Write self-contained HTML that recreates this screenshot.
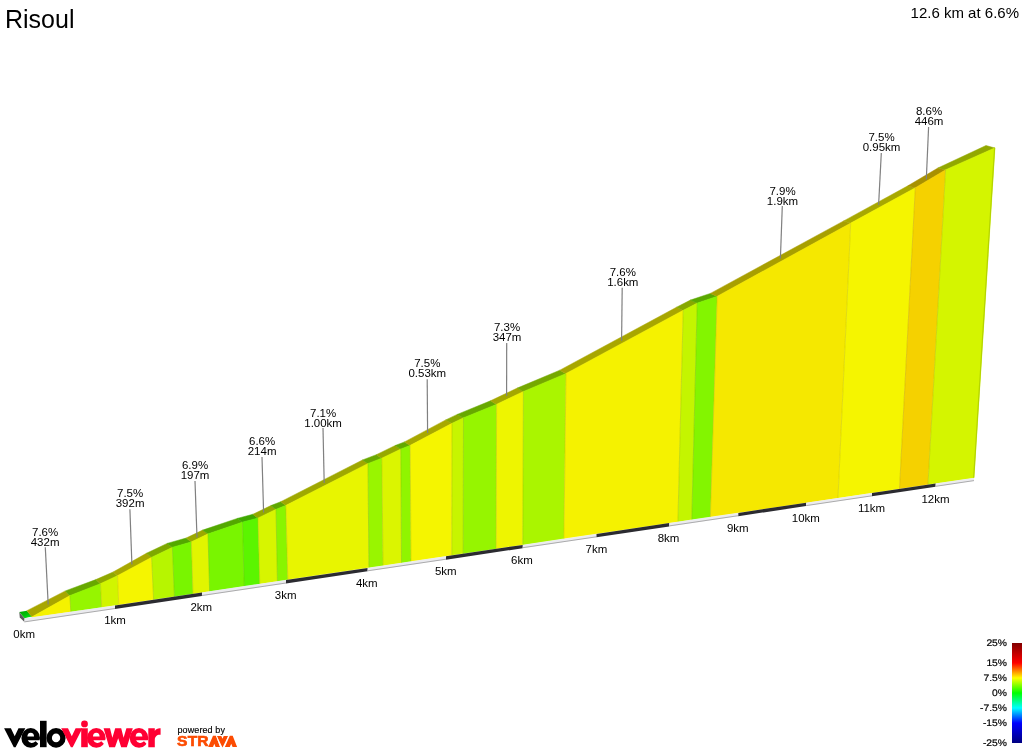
<!DOCTYPE html>
<html><head><meta charset="utf-8"><title>Risoul</title>
<style>
html,body{margin:0;padding:0;background:#fff;}
body{width:1024px;height:750px;overflow:hidden;position:relative;font-family:"Liberation Sans",sans-serif;}
svg{position:absolute;left:0;top:0;will-change:transform;}
text{font-family:"Liberation Sans",sans-serif;fill:#000;}
.l{font-size:10px;text-anchor:middle;}
.g{font-size:10px;text-anchor:end;text-rendering:geometricPrecision;stroke:#000;stroke-width:0.2px;}
</style></head><body>
<svg width="1024" height="750" viewBox="0 0 1024 750">
<defs>
<linearGradient id="lg" x1="0" y1="0" x2="0" y2="1">
<stop offset="0" stop-color="#800000"/>
<stop offset="0.2" stop-color="#ff0000"/>
<stop offset="0.35" stop-color="#ffff00"/>
<stop offset="0.5" stop-color="#00ff00"/>
<stop offset="0.65" stop-color="#00ffff"/>
<stop offset="0.8" stop-color="#0000ff"/>
<stop offset="1" stop-color="#000080"/>
</linearGradient>
<linearGradient id="sg" x1="0" y1="0" x2="0.6" y2="1"><stop offset="0" stop-color="#00a800"/><stop offset="0.55" stop-color="#00bc08"/><stop offset="1" stop-color="#00e414"/></linearGradient>
</defs>
<text x="5" y="28" style="font-size:25px">Risoul</text>
<text x="1019" y="18" style="font-size:15px;text-anchor:end">12.6 km at 6.6%</text>
<!-- start cap -->
<polygon fill="url(#sg)" points="19.2,612.1 26.9,610.8 32,616.6 24.5,618.3"/>
<polygon fill="#5c5c5c" points="19.3,612.3 24.7,618.4 24.5,622.0 19.8,617.6"/>
<!-- faces -->
<polygon fill="#a8a600" stroke="#a8a600" stroke-width="0.5" points="32.00,617.10 69.90,595.80 65.30,590.90 26.90,610.70"/>
<polygon fill="#67a800" stroke="#67a800" stroke-width="0.5" points="69.90,595.80 100.50,583.90 95.81,579.61 65.30,590.90"/>
<polygon fill="#90a800" stroke="#90a800" stroke-width="0.5" points="100.50,583.90 117.60,575.90 113.10,571.99 95.81,579.61"/>
<polygon fill="#a8a800" stroke="#a8a800" stroke-width="0.5" points="117.60,575.90 151.60,557.50 146.40,553.31 113.10,571.99"/>
<polygon fill="#7ea800" stroke="#7ea800" stroke-width="0.5" points="151.60,557.50 172.40,547.50 167.16,543.38 146.40,553.31"/>
<polygon fill="#53a800" stroke="#53a800" stroke-width="0.5" points="172.40,547.50 191.40,542.10 186.13,538.04 167.16,543.38"/>
<polygon fill="#9ba800" stroke="#9ba800" stroke-width="0.5" points="191.40,542.10 208.00,534.10 202.70,530.10 186.13,538.04"/>
<polygon fill="#53a800" stroke="#53a800" stroke-width="0.5" points="208.00,534.10 242.50,522.30 237.30,518.40 202.70,530.10"/>
<polygon fill="#3fa800" stroke="#3fa800" stroke-width="0.5" points="242.50,522.30 258.00,518.20 252.84,514.30 237.30,518.40"/>
<polygon fill="#94a800" stroke="#94a800" stroke-width="0.5" points="258.00,518.20 276.00,509.50 270.89,505.60 252.84,514.30"/>
<polygon fill="#5ea800" stroke="#5ea800" stroke-width="0.5" points="276.00,509.50 285.90,505.60 280.78,501.71 270.89,505.60"/>
<polygon fill="#9fa800" stroke="#9fa800" stroke-width="0.5" points="285.90,505.60 368.00,463.70 362.53,459.95 280.78,501.71"/>
<polygon fill="#69a800" stroke="#69a800" stroke-width="0.5" points="368.00,463.70 381.90,458.40 376.38,454.67 362.53,459.95"/>
<polygon fill="#96a800" stroke="#96a800" stroke-width="0.5" points="381.90,458.40 400.80,449.20 395.19,445.50 376.38,454.67"/>
<polygon fill="#63a800" stroke="#63a800" stroke-width="0.5" points="400.80,449.20 410.20,445.60 404.47,441.92 395.19,445.50"/>
<polygon fill="#a8a800" stroke="#a8a800" stroke-width="0.5" points="410.20,445.60 452.00,423.50 445.74,419.89 404.47,441.92"/>
<polygon fill="#89a800" stroke="#89a800" stroke-width="0.5" points="452.00,423.50 463.50,418.00 457.24,414.38 445.74,419.89"/>
<polygon fill="#67a800" stroke="#67a800" stroke-width="0.5" points="463.50,418.00 496.60,404.50 490.48,400.81 457.24,414.38"/>
<polygon fill="#a4a800" stroke="#a4a800" stroke-width="0.5" points="496.60,404.50 523.40,391.70 517.26,388.07 490.48,400.81"/>
<polygon fill="#75a800" stroke="#75a800" stroke-width="0.5" points="523.40,391.70 566.00,373.70 559.80,370.20 517.26,388.07"/>
<polygon fill="#a8a600" stroke="#a8a600" stroke-width="0.5" points="566.00,373.70 683.20,310.50 676.48,307.26 559.80,370.20"/>
<polygon fill="#87a800" stroke="#87a800" stroke-width="0.5" points="683.20,310.50 697.20,303.30 690.41,300.09 676.48,307.26"/>
<polygon fill="#5aa800" stroke="#5aa800" stroke-width="0.5" points="697.20,303.30 717.20,296.50 710.38,293.39 690.41,300.09"/>
<polygon fill="#a89f00" stroke="#a89f00" stroke-width="0.5" points="717.20,296.50 850.70,223.30 843.70,220.90 710.38,293.39"/>
<polygon fill="#a8a800" stroke="#a8a800" stroke-width="0.5" points="850.70,223.30 915.30,188.00 907.90,185.80 843.70,220.90"/>
<polygon fill="#a89000" stroke="#a89000" stroke-width="0.5" points="915.30,188.00 945.60,170.00 937.88,167.99 907.90,185.80"/>
<polygon fill="#92a800" stroke="#92a800" stroke-width="0.5" points="945.60,170.00 995.00,148.00 986.00,145.50 937.88,167.99"/>
<polygon fill="#f5f200" stroke="#f5f200" stroke-width="0.4" points="32.00,616.80 69.90,595.50 70.80,611.85 32.00,617.61"/>
<polygon fill="#96f500" stroke="#96f500" stroke-width="0.4" points="69.90,595.50 100.50,583.60 101.70,607.26 70.80,611.85"/>
<polygon fill="#d1f500" stroke="#d1f500" stroke-width="0.4" points="100.50,583.60 117.60,575.60 118.70,604.74 101.70,607.26"/>
<polygon fill="#f5f500" stroke="#f5f500" stroke-width="0.4" points="117.60,575.60 151.60,557.20 153.60,599.55 118.70,604.74"/>
<polygon fill="#b7f500" stroke="#b7f500" stroke-width="0.4" points="151.60,557.20 172.40,547.20 174.40,596.46 153.60,599.55"/>
<polygon fill="#79f500" stroke="#79f500" stroke-width="0.4" points="172.40,547.20 191.40,541.80 193.00,593.70 174.40,596.46"/>
<polygon fill="#e1f500" stroke="#e1f500" stroke-width="0.4" points="191.40,541.80 208.00,533.80 209.60,591.23 193.00,593.70"/>
<polygon fill="#79f500" stroke="#79f500" stroke-width="0.4" points="208.00,533.80 242.50,522.00 244.20,586.09 209.60,591.23"/>
<polygon fill="#5bf500" stroke="#5bf500" stroke-width="0.4" points="242.50,522.00 258.00,517.90 259.80,583.78 244.20,586.09"/>
<polygon fill="#d7f500" stroke="#d7f500" stroke-width="0.4" points="258.00,517.90 276.00,509.20 277.40,581.16 259.80,583.78"/>
<polygon fill="#89f500" stroke="#89f500" stroke-width="0.4" points="276.00,509.20 285.90,505.30 287.80,579.62 277.40,581.16"/>
<polygon fill="#e8f500" stroke="#e8f500" stroke-width="0.4" points="285.90,505.30 368.00,463.40 368.90,567.57 287.80,579.62"/>
<polygon fill="#99f500" stroke="#99f500" stroke-width="0.4" points="368.00,463.40 381.90,458.10 383.00,565.47 368.90,567.57"/>
<polygon fill="#dbf500" stroke="#dbf500" stroke-width="0.4" points="381.90,458.10 400.80,448.90 401.50,562.73 383.00,565.47"/>
<polygon fill="#90f500" stroke="#90f500" stroke-width="0.4" points="400.80,448.90 410.20,445.30 411.00,561.31 401.50,562.73"/>
<polygon fill="#f5f500" stroke="#f5f500" stroke-width="0.4" points="410.20,445.30 452.00,423.20 451.80,555.25 411.00,561.31"/>
<polygon fill="#c7f500" stroke="#c7f500" stroke-width="0.4" points="452.00,423.20 463.50,417.70 463.20,553.56 451.80,555.25"/>
<polygon fill="#96f500" stroke="#96f500" stroke-width="0.4" points="463.50,417.70 496.60,404.20 496.20,548.66 463.20,553.56"/>
<polygon fill="#eef500" stroke="#eef500" stroke-width="0.4" points="496.60,404.20 523.40,391.40 522.80,544.71 496.20,548.66"/>
<polygon fill="#aaf500" stroke="#aaf500" stroke-width="0.4" points="523.40,391.40 566.00,373.40 563.90,538.60 522.80,544.71"/>
<polygon fill="#f5f200" stroke="#f5f200" stroke-width="0.4" points="566.00,373.40 683.20,310.20 677.90,521.67 563.90,538.60"/>
<polygon fill="#c4f500" stroke="#c4f500" stroke-width="0.4" points="683.20,310.20 697.20,303.00 691.80,519.60 677.90,521.67"/>
<polygon fill="#83f500" stroke="#83f500" stroke-width="0.4" points="697.20,303.00 717.20,296.20 710.40,516.84 691.80,519.60"/>
<polygon fill="#f5e800" stroke="#f5e800" stroke-width="0.4" points="717.20,296.20 850.70,223.00 838.00,497.88 710.40,516.84"/>
<polygon fill="#f5f500" stroke="#f5f500" stroke-width="0.4" points="850.70,223.00 915.30,187.70 899.50,488.75 838.00,497.88"/>
<polygon fill="#f5d100" stroke="#f5d100" stroke-width="0.4" points="915.30,187.70 945.60,169.70 928.00,484.51 899.50,488.75"/>
<polygon fill="#d4f500" stroke="#d4f500" stroke-width="0.4" points="945.60,169.70 995.00,147.70 974.00,477.68 928.00,484.51"/>
<g stroke="#7a6a00" stroke-opacity="0.22" stroke-width="0.8"><line x1="69.9" y1="595.8" x2="70.8" y2="611.8"/>
<line x1="100.5" y1="583.9" x2="101.7" y2="607.2"/>
<line x1="117.6" y1="575.9" x2="118.7" y2="604.6"/>
<line x1="151.6" y1="557.5" x2="153.6" y2="599.5"/>
<line x1="172.4" y1="547.5" x2="174.4" y2="596.4"/>
<line x1="191.4" y1="542.1" x2="193.0" y2="593.6"/>
<line x1="208.0" y1="534.1" x2="209.6" y2="591.1"/>
<line x1="242.5" y1="522.3" x2="244.2" y2="586.0"/>
<line x1="258.0" y1="518.2" x2="259.8" y2="583.7"/>
<line x1="276.0" y1="509.5" x2="277.4" y2="581.1"/>
<line x1="285.9" y1="505.6" x2="287.8" y2="579.5"/>
<line x1="368.0" y1="463.7" x2="368.9" y2="567.5"/>
<line x1="381.9" y1="458.4" x2="383.0" y2="565.4"/>
<line x1="400.8" y1="449.2" x2="401.5" y2="562.6"/>
<line x1="410.2" y1="445.6" x2="411.0" y2="561.2"/>
<line x1="452.0" y1="423.5" x2="451.8" y2="555.2"/>
<line x1="463.5" y1="418.0" x2="463.2" y2="553.5"/>
<line x1="496.6" y1="404.5" x2="496.2" y2="548.6"/>
<line x1="523.4" y1="391.7" x2="522.8" y2="544.6"/>
<line x1="566.0" y1="373.7" x2="563.9" y2="538.5"/>
<line x1="683.2" y1="310.5" x2="677.9" y2="521.6"/>
<line x1="697.2" y1="303.3" x2="691.8" y2="519.5"/>
<line x1="717.2" y1="296.5" x2="710.4" y2="516.7"/>
<line x1="850.7" y1="223.3" x2="838.0" y2="497.8"/>
<line x1="915.3" y1="188.0" x2="899.5" y2="488.6"/>
<line x1="945.6" y1="170.0" x2="928.0" y2="484.4"/></g>
<line x1="994.6" y1="147.9" x2="973.7" y2="477.7" stroke="#b4d400" stroke-width="1.2"/>
<!-- strip -->
<polygon fill="#ebebef" points="24.4,618.3 115.0,605.5 114.9,609.0 24.4,622.3"/>
<line x1="24.4" y1="621.9" x2="115.0" y2="608.5" stroke="#9a9a9a" stroke-width="0.8"/>
<polygon fill="#2b2b30" points="115.0,605.5 202.0,592.6 201.9,596.0 115.0,609.0"/>
<polygon fill="#ebebef" points="202.0,592.6 286.0,580.1 285.9,583.5 202.0,596.0"/>
<line x1="202.0" y1="595.5" x2="286.0" y2="583.0" stroke="#9a9a9a" stroke-width="0.8"/>
<polygon fill="#2b2b30" points="286.0,580.1 367.7,567.9 367.6,571.3 286.0,583.5"/>
<polygon fill="#ebebef" points="367.7,567.9 446.0,556.3 445.9,559.7 367.7,571.3"/>
<line x1="367.7" y1="570.8" x2="446.0" y2="559.2" stroke="#9a9a9a" stroke-width="0.8"/>
<polygon fill="#2b2b30" points="446.0,556.3 522.8,544.9 522.7,548.2 446.0,559.7"/>
<polygon fill="#ebebef" points="522.8,544.9 596.5,534.0 596.4,537.3 522.8,548.2"/>
<line x1="522.8" y1="547.7" x2="596.5" y2="536.8" stroke="#9a9a9a" stroke-width="0.8"/>
<polygon fill="#2b2b30" points="596.5,534.0 669.3,523.1 669.2,526.4 596.5,537.3"/>
<polygon fill="#ebebef" points="669.3,523.1 738.3,512.9 738.2,516.2 669.3,526.4"/>
<line x1="669.3" y1="525.9" x2="738.3" y2="515.7" stroke="#9a9a9a" stroke-width="0.8"/>
<polygon fill="#2b2b30" points="738.3,512.9 806.2,502.8 806.1,506.1 738.3,516.2"/>
<polygon fill="#ebebef" points="806.2,502.8 872.0,493.0 871.9,496.3 806.2,506.1"/>
<line x1="806.2" y1="505.6" x2="872.0" y2="495.8" stroke="#9a9a9a" stroke-width="0.8"/>
<polygon fill="#2b2b30" points="872.0,493.0 935.7,483.6 935.6,486.8 872.0,496.3"/>
<polygon fill="#ebebef" points="935.7,483.6 974.0,477.9 973.9,481.1 935.7,486.8"/>
<line x1="935.7" y1="486.3" x2="974.0" y2="480.6" stroke="#9a9a9a" stroke-width="0.8"/>
<!-- km labels -->
<text transform="translate(24.2,638) scale(1.15,1)" class="l">0km</text>
<text transform="translate(115,624) scale(1.15,1)" class="l">1km</text>
<text transform="translate(201.3,611) scale(1.15,1)" class="l">2km</text>
<text transform="translate(285.7,599) scale(1.15,1)" class="l">3km</text>
<text transform="translate(366.8,587) scale(1.15,1)" class="l">4km</text>
<text transform="translate(445.8,575) scale(1.15,1)" class="l">5km</text>
<text transform="translate(521.9,564) scale(1.15,1)" class="l">6km</text>
<text transform="translate(596.4,553) scale(1.15,1)" class="l">7km</text>
<text transform="translate(668.5,542) scale(1.15,1)" class="l">8km</text>
<text transform="translate(737.8,532) scale(1.15,1)" class="l">9km</text>
<text transform="translate(805.8,522) scale(1.15,1)" class="l">10km</text>
<text transform="translate(871.5,512) scale(1.15,1)" class="l">11km</text>
<text transform="translate(935.5,503) scale(1.15,1)" class="l">12km</text>
<!-- labels -->
<line x1="45.3" y1="547.3" x2="48.2" y2="604.5" stroke="#808080" stroke-width="1.2"/>
<text transform="translate(45.1,535.8) scale(1.15,1)" class="l">7.6%</text><text transform="translate(45.1,545.9) scale(1.15,1)" class="l">432m</text>
<line x1="129.9" y1="509.2" x2="131.9" y2="564.6" stroke="#808080" stroke-width="1.2"/>
<text transform="translate(130.1,497) scale(1.15,1)" class="l">7.5%</text><text transform="translate(130.1,507.1) scale(1.15,1)" class="l">392m</text>
<line x1="195" y1="481" x2="197" y2="537.5" stroke="#808080" stroke-width="1.2"/>
<text transform="translate(195,469) scale(1.15,1)" class="l">6.9%</text><text transform="translate(195,479.1) scale(1.15,1)" class="l">197m</text>
<line x1="262" y1="457" x2="263.6" y2="512.5" stroke="#808080" stroke-width="1.2"/>
<text transform="translate(262.1,445) scale(1.15,1)" class="l">6.6%</text><text transform="translate(262.1,455.1) scale(1.15,1)" class="l">214m</text>
<line x1="323" y1="428" x2="324.2" y2="483" stroke="#808080" stroke-width="1.2"/>
<text transform="translate(323.1,417) scale(1.15,1)" class="l">7.1%</text><text transform="translate(323.1,427.1) scale(1.15,1)" class="l">1.00km</text>
<line x1="427.2" y1="379.3" x2="427.6" y2="433.1" stroke="#808080" stroke-width="1.2"/>
<text transform="translate(427.3,367) scale(1.15,1)" class="l">7.5%</text><text transform="translate(427.3,377.1) scale(1.15,1)" class="l">0.53km</text>
<line x1="506.7" y1="343.1" x2="506.6" y2="396" stroke="#808080" stroke-width="1.2"/>
<text transform="translate(507,331) scale(1.15,1)" class="l">7.3%</text><text transform="translate(507,341.1) scale(1.15,1)" class="l">347m</text>
<line x1="622.2" y1="287.7" x2="621.6" y2="340.7" stroke="#808080" stroke-width="1.2"/>
<text transform="translate(622.8,276) scale(1.15,1)" class="l">7.6%</text><text transform="translate(622.8,286.1) scale(1.15,1)" class="l">1.6km</text>
<line x1="782.3" y1="206" x2="780.4" y2="258.5" stroke="#808080" stroke-width="1.2"/>
<text transform="translate(782.5,195) scale(1.15,1)" class="l">7.9%</text><text transform="translate(782.5,205.1) scale(1.15,1)" class="l">1.9km</text>
<line x1="881.3" y1="153" x2="878.6" y2="205" stroke="#808080" stroke-width="1.2"/>
<text transform="translate(881.5,141) scale(1.15,1)" class="l">7.5%</text><text transform="translate(881.5,151.1) scale(1.15,1)" class="l">0.95km</text>
<line x1="928.6" y1="127" x2="926.3" y2="179.5" stroke="#808080" stroke-width="1.2"/>
<text transform="translate(929,115) scale(1.15,1)" class="l">8.6%</text><text transform="translate(929,125.1) scale(1.15,1)" class="l">446m</text>
<!-- legend -->
<rect x="1012" y="643" width="10" height="100" fill="url(#lg)"/>
<text transform="translate(1007,646.4) scale(1.03,0.95)" class="g">25%</text>
<text transform="translate(1007,665.8) scale(1.03,0.95)" class="g">15%</text>
<text transform="translate(1007,681) scale(1.03,0.95)" class="g">7.5%</text>
<text transform="translate(1007,695.7) scale(1.03,0.95)" class="g">0%</text>
<text transform="translate(1007,711.4) scale(1.03,0.95)" class="g">-7.5%</text>
<text transform="translate(1007,726) scale(1.03,0.95)" class="g">-15%</text>
<text transform="translate(1007,746.2) scale(1.03,0.95)" class="g">-25%</text>
<!-- logo -->
<g id="logo">
<polygon fill="#000" points="4.1,728.3 10.9,728.3 14.7,736.2 18.5,728.3 25.3,728.3 15.6,747.3 13.8,747.3"/>
<ellipse cx="30.7" cy="737.9" rx="9.3" ry="9.9" fill="#000"/><path fill="#fff" d="M27.40,736.50 A3.3,3.8 0 0 1 34.00,736.50 Z"/><path fill="#fff" d="M27.80,740.30 L40.70,740.30 L40.70,745.70 L38.70,744.20 L35.70,741.30 Q33.50,743.20 31.50,743.00 Q28.50,742.60 27.80,740.30 Z"/>
<rect x="40" y="720.8" width="6.6" height="26.4" fill="#000"/>
<ellipse cx="56.05" cy="737.9" rx="6.85" ry="7.1" fill="none" stroke="#000" stroke-width="5.4"/>
<polygon fill="#ff0033" points="61.2,728.3 68.0,728.3 71.8,736.2 75.6,728.3 82.4,728.3 72.7,747.3 70.9,747.3"/>
<rect x="81.2" y="728.3" width="6.6" height="18.9" fill="#ff0033"/><circle cx="84.5" cy="723.9" r="3.4" fill="#ff0033"/>
<ellipse cx="96.3" cy="737.9" rx="9.3" ry="9.9" fill="#ff0033"/><path fill="#fff" d="M93.00,736.50 A3.3,3.8 0 0 1 99.60,736.50 Z"/><path fill="#fff" d="M93.40,740.30 L106.30,740.30 L106.30,745.70 L104.30,744.20 L101.30,741.30 Q99.10,743.20 97.10,743.00 Q94.10,742.60 93.40,740.30 Z"/>
<polygon fill="#ff0033" points="103.6,728.3 110,728.3 112.4,737.75 115.2,728.3 121.2,728.3 123.6,737.75 126.4,728.3 132.8,728.3 126.8,747.3 121.2,747.3 118.2,738.2 115,747.3 109.2,747.3"/>
<ellipse cx="139.0" cy="737.9" rx="9.3" ry="9.9" fill="#ff0033"/><path fill="#fff" d="M135.70,736.50 A3.3,3.8 0 0 1 142.30,736.50 Z"/><path fill="#fff" d="M136.10,740.30 L149.00,740.30 L149.00,745.70 L147.00,744.20 L144.00,741.30 Q141.80,743.20 139.80,743.00 Q136.80,742.60 136.10,740.30 Z"/>
<path fill="#ff0033" d="M148.3,728.3 H154.8 V731 C155.8,729 158,728.1 160.6,728.3 V734.8 C157,734.5 154.8,736.5 154.8,740 V747.2 H148.3 Z"/>
<text x="177.5" y="733" style="font-size:9px;letter-spacing:0.1px;fill:#000;stroke:#000;stroke-width:0.15px">powered by</text>
<text transform="translate(177.1,746.2) scale(1.04,0.96)" style="font-size:15px;font-weight:bold;letter-spacing:0.15px;fill:#fc4c02;stroke:#fc4c02;stroke-width:0.65px">STR</text>
<polygon fill="#fc4c02" points="208.2,746.9 213.0,735.8 216.0,735.8 220.1,746.9 215.6,746.9 214.3,743.8 213.0,746.9"/>
<polygon fill="#fc4c02" points="216.8,735.9 221.3,735.9 222.5,738.8 223.7,735.9 228.2,735.9 222.5,747.4"/>
<line x1="216.3" y1="735.5" x2="220.6" y2="747.2" stroke="#fff" stroke-width="0.8"/><line x1="228.7" y1="735.5" x2="224.4" y2="747.2" stroke="#fff" stroke-width="0.8"/>
<polygon fill="#fc4c02" points="224.9,746.9 229.8,735.8 232.7,735.8 237.1,746.9 232.6,746.9 231.2,743.8 229.8,746.9"/>
</g>
</svg>
</body></html>
